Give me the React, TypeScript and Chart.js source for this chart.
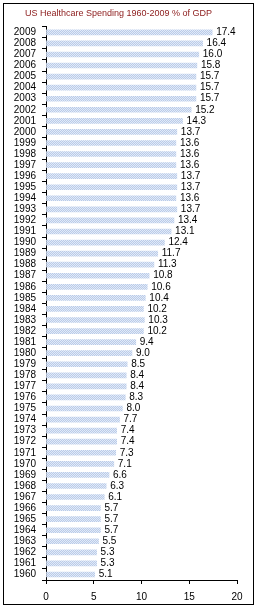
import React, { useEffect, useRef } from "react";
import { Chart, registerables } from "chart.js";

Chart.register(...registerables);

const TITLE = "US Healthcare Spending 1960-2009 % of GDP";

const years: string[] = [
  "2009", "2008", "2007", "2006", "2005", "2004", "2003", "2002", "2001", "2000",
  "1999", "1998", "1997", "1996", "1995", "1994", "1993", "1992", "1991", "1990",
  "1989", "1988", "1987", "1986", "1985", "1984", "1983", "1982", "1981", "1980",
  "1979", "1978", "1977", "1976", "1975", "1974", "1973", "1972", "1971", "1970",
  "1969", "1968", "1967", "1966", "1965", "1964", "1963", "1962", "1961", "1960",
];

const spending: number[] = [
  17.4, 16.4, 16.0, 15.8, 15.7, 15.7, 15.7, 15.2, 14.3, 13.7,
  13.6, 13.6, 13.6, 13.7, 13.7, 13.6, 13.7, 13.4, 13.1, 12.4,
  11.7, 11.3, 10.8, 10.6, 10.4, 10.2, 10.3, 10.2, 9.4, 9.0,
  8.5, 8.4, 8.4, 8.3, 8.0, 7.7, 7.4, 7.4, 7.3, 7.1,
  6.6, 6.3, 6.1, 5.7, 5.7, 5.7, 5.5, 5.3, 5.3, 5.1,
];

const xTicks: number[] = [0, 5, 10, 15, 20];

const FONT = "'Liberation Sans', Arial, sans-serif";

function makePattern(): CanvasPattern | string {
  const c = document.createElement("canvas");
  c.width = 2;
  c.height = 2;
  const g = c.getContext("2d");
  if (!g) return "#c8d6ee";
  g.fillStyle = "#b9cbe9";
  g.fillRect(0, 0, 2, 2);
  g.fillStyle = "#e2eaf7";
  g.fillRect(0, 0, 1, 1);
  g.fillRect(1, 1, 1, 1);
  const p = g.createPattern(c, "repeat");
  return p || "#c8d6ee";
}

const labelPlugin = {
  id: "barLabels",
  afterDatasetsDraw(chart: any) {
    const ctx = chart.ctx;
    const meta = chart.getDatasetMeta(0);
    ctx.save();
    ctx.font = `10px ${FONT}`;
    ctx.fillStyle = "#000";
    ctx.textAlign = "left";
    ctx.textBaseline = "middle";
    meta.data.forEach((el: any, i: number) => {
      ctx.fillText(spending[i].toFixed(1), el.x + 4, el.y);
    });
    ctx.restore();
  },
};

const framePlugin = {
  id: "frame",
  afterDraw(chart: any) {
    const ctx = chart.ctx;
    ctx.save();
    ctx.strokeStyle = "#000";
    ctx.lineWidth = 1;
    ctx.strokeRect(3.5, 3.5, 250, 601);
    ctx.restore();
  },
};

export default function App() {
  const ref = useRef<HTMLCanvasElement | null>(null);

  useEffect(() => {
    document.body.style.margin = "0";
    document.body.style.background = "#fff";
    const canvas = ref.current;
    if (!canvas) return;
    const chart = new Chart(canvas, {
      type: "bar",
      data: {
        labels: years,
        datasets: [
          {
            data: spending,
            backgroundColor: makePattern() as any,
            borderWidth: 0,
            barThickness: 5,
          },
        ],
      },
      options: {
        indexAxis: "y",
        animation: false,
        responsive: false,
        maintainAspectRatio: false,
        layout: { padding: { top: 0, left: 0, right: 20, bottom: 0 } },
        plugins: {
          legend: { display: false },
          tooltip: { enabled: false },
          title: {
            display: true,
            text: TITLE,
            color: "#8b1a1a",
            font: { family: FONT, size: 9, weight: "normal" },
            padding: { top: 8, bottom: 8 },
          },
        },
        scales: {
          x: {
            min: 0,
            max: 20,
            afterBuildTicks: (s: any) => {
              s.ticks = xTicks.map((v) => ({ value: v }));
            },
            afterFit: (s: any) => {
              s.height = 30;
            },
            grid: {
              drawOnChartArea: false,
              drawTicks: true,
              tickLength: 4,
              color: "#000",
            },
            border: { display: true, color: "#000" },
            ticks: {
              color: "#000",
              padding: 7,
              font: { family: FONT, size: 10 },
            },
          },
          y: {
            afterFit: (s: any) => {
              s.width = 46;
            },
            grid: {
              offset: true,
              drawOnChartArea: false,
              drawTicks: true,
              tickLength: 4,
              color: "#000",
            },
            border: { display: true, color: "#000" },
            ticks: {
              color: "#000",
              padding: 6,
              autoSkip: false,
              font: { family: FONT, size: 10 },
            },
          },
        },
      },
      plugins: [labelPlugin, framePlugin],
    });
    return () => chart.destroy();
  }, []);

  return (
    <div style={{ width: 257, height: 610, position: "relative" }}>
      <canvas ref={ref} width={257} height={610} style={{ display: "block" }} />
    </div>
  );
}
